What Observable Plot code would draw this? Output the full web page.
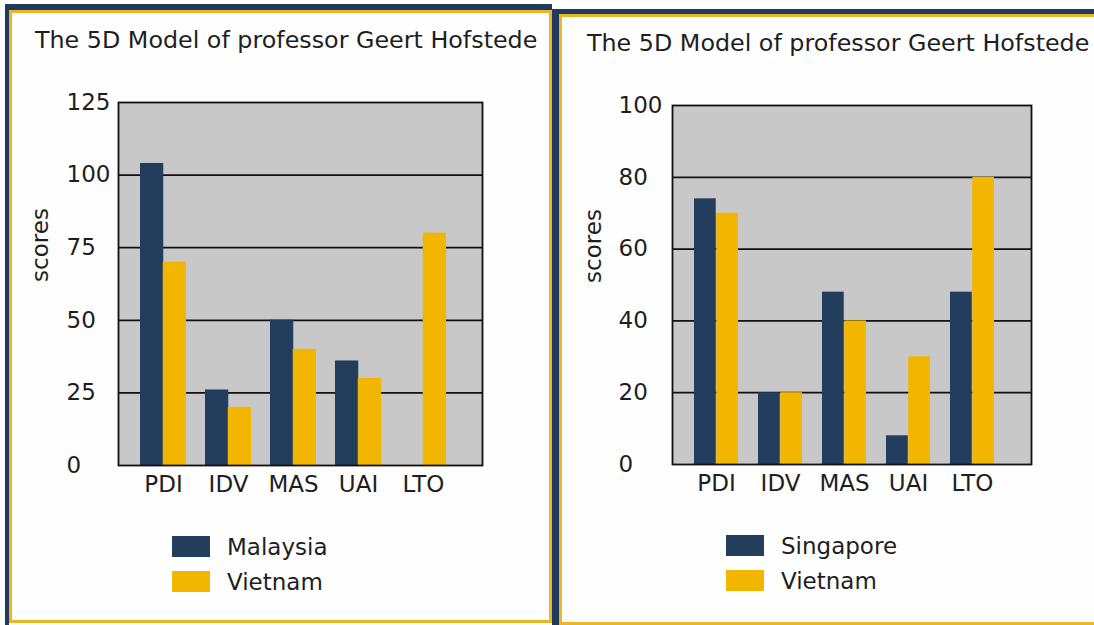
<!DOCTYPE html>
<html><head><meta charset="utf-8">
<script src="https://cdn.jsdelivr.net/npm/d3@7"></script>
<script src="https://cdn.jsdelivr.net/npm/@observablehq/plot@0.6"></script>
<style>
body{margin:0;width:1094px;height:625px;overflow:hidden;background:#fff;font-family:"DejaVu Sans",Verdana,sans-serif;color:#1e1e1e;position:relative}
.abs{position:absolute}
.outerL{left:5px;top:4px;width:547px;height:640px;border-top:6px solid #1f3a5b;border-left:4px solid #1f3a5b;box-sizing:border-box}
.innerL{left:9px;top:10px;width:543px;height:613px;border:3px solid #e9b62a;box-sizing:border-box;background:#fefefe}
.outerR{left:552px;top:9px;width:600px;height:640px;border-top:5px solid #1f3a5b;border-left:7px solid #1f3a5b;box-sizing:border-box}
.innerR{left:559px;top:14px;width:600px;height:611px;border:3px solid #e9b62a;border-right:none;box-sizing:border-box;background:#fefefe}
.title{font-size:23.8px;line-height:23.8px;white-space:nowrap}
.leg{display:flex;align-items:center;height:21px;font-size:23px;white-space:nowrap}
.sw{width:38px;height:21px;margin-right:17px}
</style>
</head><body>
<div class="abs outerL"></div><div class="abs innerL"></div>
<div class="abs outerR"></div><div class="abs innerR"></div>
<div class="abs title" style="left:35px;top:29px">The 5D Model of professor Geert Hofstede</div>
<div class="abs title" style="left:587px;top:32px">The 5D Model of professor Geert Hofstede</div>
<div id="c1" class="abs" style="left:0px;top:60px;width:553px"></div>
<div id="c2" class="abs" style="left:556px;top:60px;width:538px"></div>
<div id="l1" class="abs" style="left:172px;top:536px"></div>
<div id="l2" class="abs" style="left:726px;top:535px"></div>
<script>
const dims = ["PDI", "IDV", "MAS", "UAI", "LTO"];
const malaysia = [104, 26, 50, 36, null];
const vietnam = [70, 20, 40, 30, 80];
const singapore = [74, 20, 48, 8, 48];
const leftTicks = [0, 25, 50, 75, 100, 125];
const rightTicks = [0, 20, 40, 60, 80, 100];
const seriesLeft = ["Malaysia", "Vietnam"];
const seriesRight = ["Singapore", "Vietnam"];
const yLabel = "scores";
const NAVY = "#233d5c", GOLD = "#f3b600";

function chart(o) {
  const n = dims.length;
  const step = (o.xRange[1] - o.xRange[0]) / (n + o.pad);
  const half = step * (1 - o.pad) / 2;
  const rowsA = dims.map((d, i) => ({dim: d, v: o.a[i]})).filter(r => r.v != null);
  const rowsB = dims.map((d, i) => ({dim: d, v: o.b[i]})).filter(r => r.v != null);
  return Plot.plot({
    width: o.width, height: o.height,
    marginLeft: o.mL, marginRight: o.mR, marginTop: o.mT, marginBottom: o.mB,
    style: {fontFamily: "DejaVu Sans", fontSize: "23px", color: "#1e1e1e", background: "transparent", overflow: "visible"},
    x: {domain: dims, range: o.xRange, padding: o.pad, align: 0.5, label: null},
    y: {domain: [o.ticks[0], o.ticks[o.ticks.length - 1]], label: null},
    marks: [
      Plot.frame({fill: "#c8c8c8"}),
      Plot.ruleY(o.ticks.slice(1, -1), {stroke: "#111", strokeWidth: 1.8}),
      Plot.barY(rowsA, {x: "dim", y: "v", fill: NAVY, insetLeft: 0, insetRight: half}),
      Plot.barY(rowsB, {x: "dim", y: "v", fill: GOLD, insetLeft: half, insetRight: 0}),
      Plot.frame({stroke: "#111", strokeWidth: 1.8}),
      Plot.axisY({ticks: o.ticks, tickSize: 0, tickPadding: 0, textAnchor: "start", dx: o.labelDx, label: null}),
      Plot.axisX({tickSize: 0, tickPadding: 10, label: null}),
      Plot.text([yLabel], {text: d => d, frameAnchor: "left", textAnchor: "middle", rotate: -90, dx: o.titleDx, dy: -39})
    ]
  });
}

document.getElementById("c1").append(chart({
  a: malaysia, b: vietnam, ticks: leftTicks,
  width: 553, height: 450, mL: 118, mR: 71, mT: 42, mB: 45,
  xRange: [120.5, 465], pad: 0.3, labelDx: -52, titleDx: -78
}));
document.getElementById("c2").append(chart({
  a: singapore, b: vietnam, ticks: rightTicks,
  width: 538, height: 450, mL: 116, mR: 63, mT: 45, mB: 46,
  xRange: [117, 459.5], pad: 0.31, labelDx: -54, titleDx: -79
}));

function legend(id, names) {
  const el = document.getElementById(id);
  [NAVY, GOLD].forEach((c, i) => {
    const row = document.createElement("div");
    row.className = "leg";
    row.style.marginBottom = i === 0 ? "14px" : "0";
    const sw = document.createElement("div");
    sw.className = "sw"; sw.style.background = c;
    const t = document.createElement("span");
    t.textContent = names[i];
    row.append(sw, t);
    el.append(row);
  });
}
legend("l1", seriesLeft);
legend("l2", seriesRight);
</script>
</body></html>
